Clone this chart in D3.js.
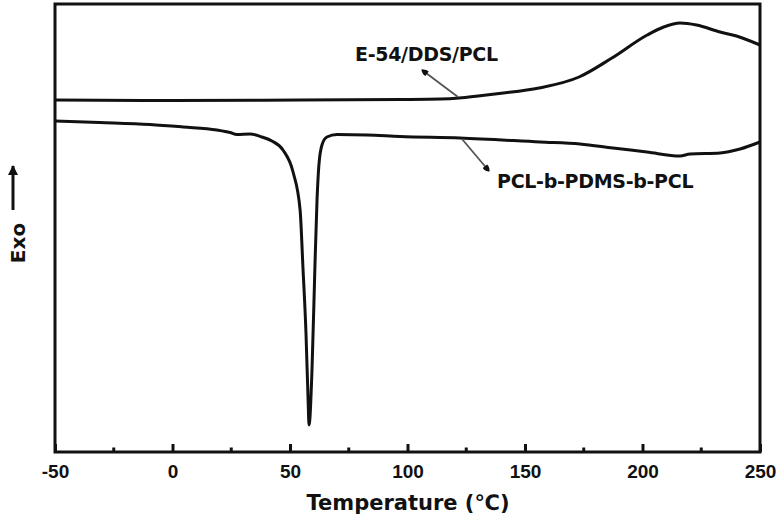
<!DOCTYPE html>
<html>
<head>
<meta charset="utf-8">
<script src="https://cdn.jsdelivr.net/npm/d3@7"></script>
<style>
  body { margin: 0; background: #fff; }
  text { font-family: "DejaVu Sans", sans-serif; font-weight: bold; fill: #111; }
</style>
</head>
<body>
<div id="chart"></div>
<script>
// ---------------- data ----------------
// temperature in degC, heat flow in arbitrary units (exo up)
var epoxyT = [-50, 0, 54, 97, 114, 122, 130, 139, 156, 173, 187, 202, 209, 216, 223, 233, 240, 250];
var epoxyH = [35.2, 35.15, 35.2, 35.25, 35.3, 35.4, 35.6, 35.85, 36.4, 37.5, 39.4, 41.7, 42.5, 42.9, 42.7, 42.0, 41.6, 40.7];

var copolyT = [-50, -31, -9.6, 4.5, 18.9, 24.5, 27.4, 33, 38.1, 42.3, 47, 51.3, 54.3, 55.5, 56.8, 57.7, 58.1,
               59.4, 60.6, 61.5, 62.3, 63.6, 65.7, 70, 82.8, 96.8, 122.3, 156.4, 173.4, 187.4, 201.9, 216, 220.2, 233, 241.5, 250];
var copolyH = [33.1, 32.95, 32.75, 32.5, 32.2, 31.95, 31.75, 31.8, 31.5, 31.1, 30.2, 28.0, 24.2, 18.5, 11.9, 5.2, 2.7,
               8.5, 18.5, 25.2, 28.7, 30.7, 31.5, 31.75, 31.7, 31.55, 31.4, 31.0, 30.8, 30.4, 30.0, 29.6, 29.8, 29.9, 30.3, 31.0];

var xTicks = [-50, 0, 50, 100, 150, 200, 250];
var xMinorTicks = [-25, 25, 75, 125, 175, 225];

var seriesNames = ["E-54/DDS/PCL", "PCL-b-PDMS-b-PCL"];

// ---------------- set-up ----------------
var W = 784, H = 524;
var margin = {left: 55, top: 4, right: 24, bottom: 72};

var x = d3.scaleLinear().domain([-50, 250]).range([margin.left, W - margin.right]);
var y = d3.scaleLinear().domain([0, 44.8]).range([H - margin.bottom, margin.top]);

var svg = d3.select("#chart").append("svg")
  .attr("width", W)
  .attr("height", H);

var defs = svg.append("defs");
defs.append("marker")
  .attr("id", "head")
  .attr("viewBox", "0 0 10 10")
  .attr("refX", 9).attr("refY", 5)
  .attr("markerWidth", 10).attr("markerHeight", 7)
  .attr("markerUnits", "userSpaceOnUse")
  .attr("orient", "auto")
  .append("path").attr("d", "M0,1 Q5,0 10,5 Q5,10 0,9 Z").attr("fill", "#111");

defs.append("marker")
  .attr("id", "exoHead")
  .attr("viewBox", "0 0 10 10")
  .attr("refX", 9).attr("refY", 5)
  .attr("markerWidth", 12).attr("markerHeight", 10)
  .attr("markerUnits", "userSpaceOnUse")
  .attr("orient", "auto")
  .append("path").attr("d", "M0,0 L10,5 L0,10 Z").attr("fill", "#111");

// ---------------- curves ----------------
var line = d3.line()
  .x(function(d) { return x(d[0]); })
  .y(function(d) { return y(d[1]); })
  .curve(d3.curveMonotoneX);

var curves = [d3.zip(epoxyT, epoxyH), d3.zip(copolyT, copolyH)];

svg.selectAll("path.curve")
  .data(curves)
  .enter().append("path")
  .attr("class", "curve")
  .attr("d", line)
  .attr("fill", "none")
  .attr("stroke", "#111")
  .attr("stroke-width", 3)
  .attr("stroke-linejoin", "round");

// ---------------- frame & axis ----------------
svg.append("rect")
  .attr("x", x(-50)).attr("y", margin.top)
  .attr("width", x(250) - x(-50))
  .attr("height", y(0) - margin.top)
  .attr("fill", "none")
  .attr("stroke", "#111")
  .attr("stroke-width", 3);

var xAxis = svg.append("g")
  .attr("transform", "translate(0," + y(0) + ")")
  .call(d3.axisBottom(x).tickValues(xTicks).tickSize(-8).tickPadding(13)
    .tickFormat(function(d) { return String(d); }));
xAxis.select(".domain").remove();
xAxis.selectAll(".tick line").attr("stroke", "#111").attr("stroke-width", 3);
xAxis.selectAll(".tick text")
  .style("font-family", "'Liberation Sans', Arial, sans-serif")
  .style("font-weight", "bold")
  .style("font-size", "19px")
  .attr("fill", "#111");

svg.append("g")
  .selectAll("line")
  .data(xMinorTicks)
  .enter().append("line")
  .attr("x1", function(d) { return x(d); })
  .attr("x2", function(d) { return x(d); })
  .attr("y1", y(0))
  .attr("y2", y(0) - 4.5)
  .attr("stroke", "#111")
  .attr("stroke-width", 3);

// axis titles
svg.append("text")
  .attr("x", 408).attr("y", 510)
  .attr("text-anchor", "middle")
  .style("font-size", "21px")
  .text("Temperature (\u2103)");

svg.append("text")
  .attr("transform", "translate(25,243) rotate(-90)")
  .attr("text-anchor", "middle")
  .style("font-size", "20px")
  .text("Exo");

svg.append("line")
  .attr("x1", 13).attr("y1", 210)
  .attr("x2", 13).attr("y2", 166)
  .attr("stroke", "#111")
  .attr("stroke-width", 3)
  .attr("marker-end", "url(#exoHead)");

// ---------------- annotations ----------------
var notes = [
  {name: seriesNames[0], tx: 355, ty: 61, from: [458, 97], to: [422, 70]},
  {name: seriesNames[1], tx: 497, ty: 188, from: [462, 139], to: [489, 171]}
];

svg.selectAll("line.note")
  .data(notes)
  .enter().append("line")
  .attr("class", "note")
  .attr("x1", function(d) { return d.from[0]; })
  .attr("y1", function(d) { return d.from[1]; })
  .attr("x2", function(d) { return d.to[0]; })
  .attr("y2", function(d) { return d.to[1]; })
  .attr("stroke", "#555")
  .attr("stroke-width", 1.8)
  .attr("marker-end", "url(#head)");

svg.selectAll("text.note")
  .data(notes)
  .enter().append("text")
  .attr("class", "note")
  .attr("x", function(d) { return d.tx; })
  .attr("y", function(d) { return d.ty; })
  .style("font-size", "19px")
  .style("letter-spacing", "-0.3px")
  .text(function(d) { return d.name; });
</script>
</body>
</html>
